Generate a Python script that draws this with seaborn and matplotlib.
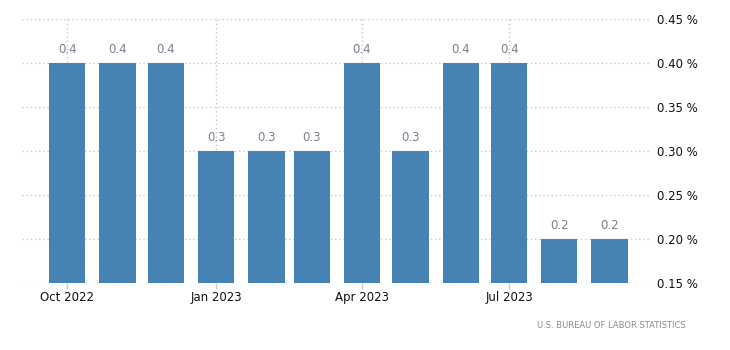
import matplotlib
matplotlib.use("Agg")
import matplotlib.pyplot as plt
import matplotlib.dates as mdates
import matplotlib.ticker as mticker
import numpy as np
import pandas as pd
import seaborn as sns

# Monthly change, %
months = ["2022-10-01", "2022-11-01", "2022-12-01", "2023-01-01", "2023-02-01",
          "2023-03-01", "2023-04-01", "2023-05-01", "2023-06-01", "2023-07-01",
          "2023-08-01", "2023-09-01"]
values = [0.4, 0.4, 0.4, 0.3, 0.3, 0.3, 0.4, 0.3, 0.4, 0.4, 0.2, 0.2]
y_ticks = [0.15, 0.20, 0.25, 0.30, 0.35, 0.40, 0.45]
x_ticks = ["2022-10-01", "2023-01-01", "2023-04-01", "2023-07-01"]
source = "U.S. BUREAU OF LABOR STATISTICS"

sns.set_theme(style="white")
plt.rcParams["font.family"] = ["DejaVu Sans"]

df = pd.DataFrame({"date": mdates.date2num(pd.to_datetime(months)), "value": values})

fig = plt.figure(figsize=(7.3, 3.5), dpi=100)
ax = fig.add_axes([22 / 730, 1 - 283 / 350, 628 / 730, 264 / 350])

sns.barplot(data=df, x="date", y="value", native_scale=True, color="#4682b4",
            saturation=1, width=0.8, linewidth=0, ax=ax, zorder=3)

ax.set_ylim(0.15, 0.45)
start = mdates.date2num(pd.Timestamp("2022-09-03"))
end = mdates.date2num(pd.Timestamp("2023-09-26"))
ax.set_xlim(start, end)

# value labels above each bar
for d, v in zip(df["date"], df["value"]):
    ax.annotate(f"{v:.1f}", xy=(d, v), xytext=(0, 5), textcoords="offset points",
                ha="center", va="bottom", fontsize=8.5, color="#7d7d95")

ax.set_yticks(y_ticks)
ax.yaxis.tick_right()
ax.yaxis.set_major_formatter(mticker.FuncFormatter(lambda v, p: f"{v:.2f} %"))
ax.set_xticks(mdates.date2num(pd.to_datetime(x_ticks)))
ax.xaxis.set_major_formatter(mdates.DateFormatter("%b %Y"))

ax.tick_params(axis="y", length=0, pad=5, labelsize=8.5, labelcolor="#111111")
ax.tick_params(axis="x", length=4, width=1, color="#cccccc", pad=2,
               labelsize=8.5, labelcolor="#111111", bottom=True)

ax.grid(True, axis="both", linestyle=(0, (1, 2)), color="#c8c8c8", linewidth=1)
ax.set_axisbelow(True)
for s in ax.spines.values():
    s.set_visible(False)
ax.set_xlabel("")
ax.set_ylabel("")

fig.text(686 / 730, 1 - 325 / 350, source, ha="right", va="center",
         fontsize=6, color="#8a8a9a")

fig.savefig("out.png", dpi=100)
